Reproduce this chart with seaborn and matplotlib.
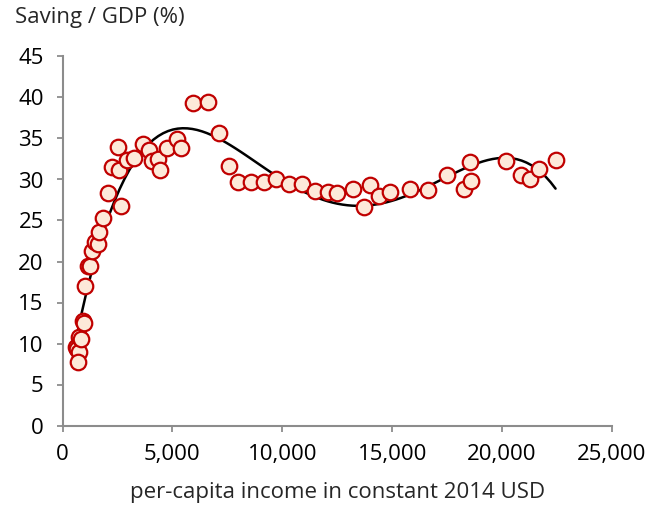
import matplotlib
matplotlib.use("Agg")
import matplotlib.pyplot as plt
import seaborn as sns
import pandas as pd
from matplotlib.ticker import FuncFormatter, MultipleLocator

# per-capita income (constant 2014 USD)
income = [
    614, 673, 736, 690, 764, 827, 920, 977, 1023, 1173, 1236, 1355, 1477, 1600,
    1659, 1855, 2055, 2264, 2523, 2555, 2645, 2945, 3250, 3645, 3918, 4082,
    4327, 4432, 4764, 5191, 5373, 5918, 6600, 7100, 7568, 7991, 8555, 9173,
    9705, 10309, 10886, 11509, 12100, 12477, 13218, 13705, 13977, 14386,
    14900, 15827, 16627, 17477, 18264, 18600, 18555, 20159, 20873, 21250,
    21673, 22432,
]
# saving / GDP (%)
saving = [
    9.6, 9.3, 9.0, 7.7, 10.8, 10.6, 12.8, 12.5, 17.0, 19.5, 19.4, 21.3, 22.4, 22.1,
    23.6, 25.3, 28.3, 31.5, 34.0, 31.1, 26.8, 32.4, 32.6, 34.3, 33.6, 32.3,
    32.5, 31.2, 33.8, 34.9, 33.9, 39.3, 39.4, 35.7, 31.7, 29.7, 29.7, 29.7,
    30.1, 29.5, 29.5, 28.6, 28.5, 28.4, 28.8, 26.7, 29.3, 28.0,
    28.5, 28.9, 28.7, 30.5, 28.9, 29.8, 32.1, 32.2, 30.5, 30.0,
    31.3, 32.4,
]

df = pd.DataFrame({"income": income, "saving": saving})

sns.set_style("white")
plt.rcParams["font.family"] = ["Open Sans", "DejaVu Sans"]
FS = 16

fig = plt.figure(figsize=(6.56, 5.12), dpi=100)
ax = fig.add_axes([62.5 / 656, 1 - 425.5 / 512, (612 - 62.5) / 656, (425.5 - 56.5) / 512])

sns.regplot(data=df, x="income", y="saving", order=4, ci=None, scatter=False,
            line_kws=dict(color="black", lw=1.8), ax=ax, truncate=True)
sns.scatterplot(data=df, x="income", y="saving", s=125, color="#FDE9D9",
                edgecolor="#C00000", linewidth=1.6, ax=ax, zorder=3, clip_on=False)

ax.set_xlim(0, 25000)
ax.set_ylim(0, 45)
ax.xaxis.set_major_locator(MultipleLocator(5000))
ax.yaxis.set_major_locator(MultipleLocator(5))
ax.xaxis.set_major_formatter(FuncFormatter(lambda v, p: f"{int(v):,}"))

for side in ["top", "right"]:
    ax.spines[side].set_visible(False)
for side in ["left", "bottom"]:
    ax.spines[side].set_color("#8c8c8c")
    ax.spines[side].set_linewidth(1.5)

ax.tick_params(axis="both", which="major", direction="out", length=4.5, width=1.3,
               color="#8c8c8c", labelsize=FS, labelcolor="black", pad=9)
ax.tick_params(axis="x", bottom=True)
ax.tick_params(axis="y", left=True)

ax.set_xlabel("per-capita income in constant 2014 USD", fontsize=FS, labelpad=12)
ax.set_ylabel("")

fig.text(15 / 656, 1 - 17 / 512, "Saving / GDP (%)", fontsize=FS, va="center", ha="left")

fig.savefig("out.png", dpi=100)
